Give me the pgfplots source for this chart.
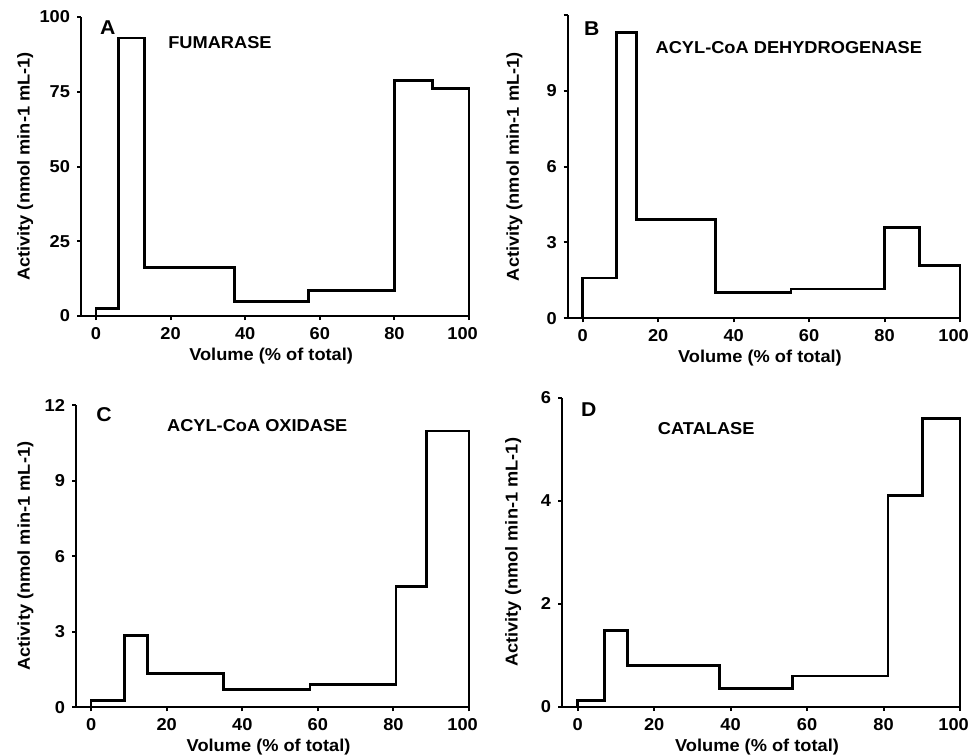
\documentclass[border=0pt]{standalone}
\usepackage{fontspec}
\setmainfont{Liberation Sans}[FakeStretch=1.06]
\usepackage{pgfplots}
\pgfplotsset{compat=1.18}

\pgfplotsset{
  frac/.style={
    scale only axis,
    anchor=south west,
    axis x line=bottom, axis y line=left,
    axis line style={-, line width=1.15pt},
    tick align=outside,
    major tick length=2pt,
    tick style={black, line width=1pt},
    xmin=-4, xmax=100, ymin=0,
    xtick={0,20,...,80},
    extra x ticks={100},
    extra x tick style={xticklabel style={xshift=-3.2pt}},
    /pgf/number format/assume math mode=true,
    ticklabel style={font=\fontsize{8.6}{10}\selectfont\bfseries},
    label style={font=\fontsize{8.6}{10}\selectfont\bfseries},
    xlabel={Volume (\% of total)},
    ylabel={Activity (nmol min-1 mL-1)},
    xlabel style={at={(axis description cs:0.49,0)}, anchor=center, yshift=-20pt},
    clip=false,
  },
  hist/.style={const plot, black, line width=1.35pt, line join=miter},
}
\tikzset{
  lett/.style={font=\fontsize{10}{12}\selectfont\bfseries, inner sep=0pt},
  ttl/.style={font=\fontsize{8.6}{10}\selectfont\bfseries, anchor=west, inner sep=0pt},
}

\begin{document}
\begin{tikzpicture}
\useasboundingbox (0,0) rectangle (486pt,-377.5pt);

% A fumarase
\begin{axis}[frac, at={(40.5pt,-158pt)}, width=194pt, height=149.5pt,
  ymax=100, ytick={0,25,50,75,100},
  ylabel style={at={(axis description cs:-0.144,0.5)}, anchor=center, rotate=0}]
\addplot[hist] coordinates {(0,0) (0,2.5) (6,93) (13,16.2) (37.2,4.8) (57,8.6) (80,78.8) (90.2,76.1) (100,76.1) (100,0)};
\node[lett] at (axis cs:3.2,96.6) {A};
\node[ttl] at (axis cs:19.3,91.6) {FUMARASE};
\end{axis}

% B acyl-CoA dehydrogenase
\begin{axis}[frac, at={(283.85pt,-159.15pt)}, width=196.15pt, height=151.65pt,
  ymax=12, ytick={0,3,6,9,12}, yticklabels={0,3,6,9,{}},
  ylabel style={at={(axis description cs:-0.136,0.5)}, anchor=center, rotate=0}]
\addplot[hist] coordinates {(0,0) (0,1.6) (9,11.3) (14.3,3.9) (35.1,1.03) (55.2,1.16) (80,3.58) (89.2,2.08) (100,2.08) (100,0)};
\node[lett] at (axis cs:2.4,11.47) {B};
\node[ttl] at (axis cs:19.2,10.71) {ACYL-CoA DEHYDROGENASE};
\end{axis}

% C acyl-CoA oxidase
\begin{axis}[frac, at={(38pt,-353.65pt)}, width=196.5pt, height=151.15pt,
  ymax=12, ytick={0,3,6,9,12},
  ylabel style={at={(axis description cs:-0.129,0.5)}, anchor=center, rotate=0}]
\addplot[hist] coordinates {(0,0) (0,0.27) (8.8,2.86) (14.9,1.33) (35,0.72) (57.9,0.9) (80.7,4.79) (88.8,10.97) (100,10.97) (100,0)};
\node[lett] at (axis cs:3.4,11.6) {C};
\node[ttl] at (axis cs:20,11.2) {ACYL-CoA OXIDASE};
\end{axis}

% D catalase
\begin{axis}[frac, at={(281pt,-353.5pt)}, width=199pt, height=154.65pt,
  xmin=-4.1, ymax=6, ytick={0,2,4,6},
  ylabel style={at={(axis description cs:-0.123,0.5)}, anchor=center, rotate=0}]
\addplot[hist] coordinates {(0,0) (0,0.12) (7.1,1.48) (13.1,0.8) (37.1,0.36) (56.1,0.6) (81.2,4.1) (90.1,5.6) (100,5.6) (100,0)};
\node[lett] at (axis cs:2.9,5.77) {D};
\node[ttl] at (axis cs:20.9,5.41) {CATALASE};
\end{axis}
\end{tikzpicture}
\end{document}
